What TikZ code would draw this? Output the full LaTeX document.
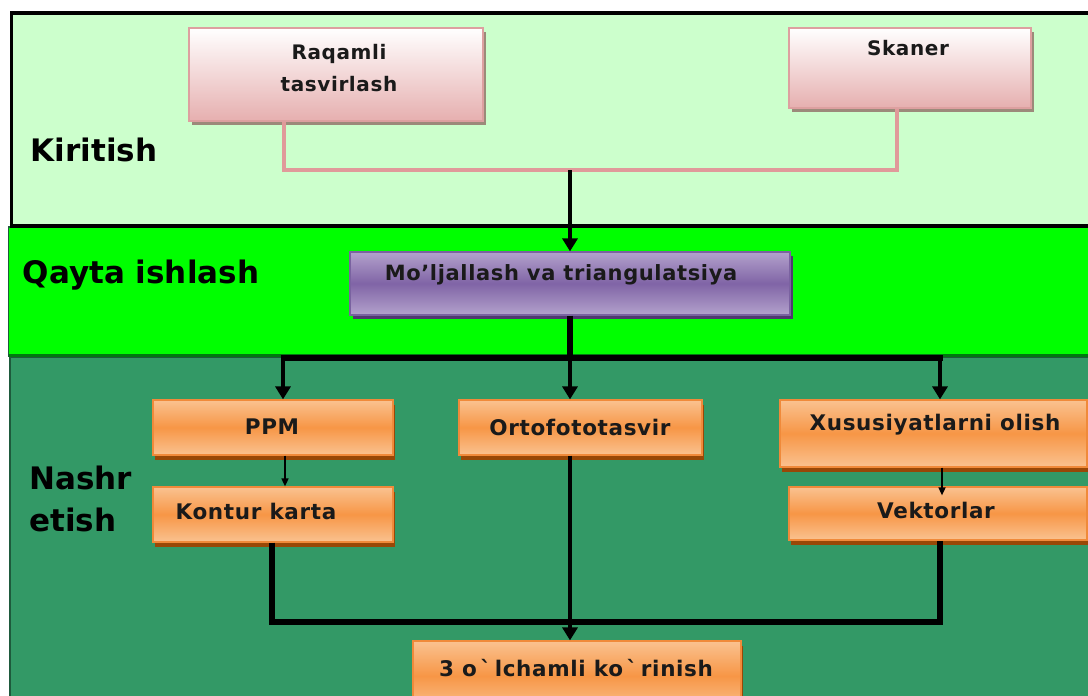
\documentclass[tikz,border=0pt]{standalone}
\usepackage{fontspec}
\setmainfont{DejaVu Sans}
\newfontfamily\boxfont{DejaVu Sans}[LetterSpace=3,Ligatures=NoCommon]
\usetikzlibrary{arrows.meta}
\definecolor{kirbg}{HTML}{CCFFCC}
\definecolor{qaytabg}{HTML}{00FF00}
\definecolor{qaytaedge}{HTML}{007A10}
\definecolor{nashrbg}{HTML}{339966}
\definecolor{nashredge}{HTML}{1E5A3C}
\definecolor{pinkbot}{HTML}{E6AFAF}
\definecolor{pinkedge}{HTML}{DDA0A0}
\definecolor{pinkshadow}{HTML}{9C8A7A}
\definecolor{pinkline}{HTML}{E09A9A}
\definecolor{purlight}{HTML}{B3A2CC}
\definecolor{purdark}{HTML}{8064A6}
\definecolor{puredge}{HTML}{7A62A0}
\definecolor{purshadow}{HTML}{4E3A6E}
\definecolor{orlight}{HTML}{FAC290}
\definecolor{ordark}{HTML}{F79646}
\definecolor{oredge}{HTML}{F08A3A}
\definecolor{orshadow}{HTML}{984807}
\definecolor{txt}{HTML}{1A1A1A}
\begin{document}
\begin{tikzpicture}[x=1pt,y=-1pt,
  bandlbl/.style={font=\fontsize{31}{42}\selectfont\bfseries, align=left, inner sep=0, text=black},
  boxtxt/.style={font=\boxfont\fontsize{21.5}{32}\selectfont\bfseries, inner sep=0, align=center, text=txt},
  basebox/.style={inner sep=0, line width=1.2pt},
  pinkbox/.style={basebox, draw=pinkedge, top color=white, bottom color=pinkbot,
    preaction={fill=pinkshadow, transform canvas={shift={(3,4)}}}},
  purbox/.style={basebox, draw=puredge, top color=purlight, bottom color=purlight, middle color=purdark,
    preaction={fill=purshadow, transform canvas={shift={(3,4)}}}},
  orbox/.style={basebox, draw=oredge, top color=orlight, bottom color=orlight, middle color=ordark,
    preaction={fill=orshadow, transform canvas={shift={(2,5)}}}},
  pinkconn/.style={draw=pinkline, line width=3.6pt},
  thickconn/.style={draw=black, line width=5.5pt},
  bigarrow/.style={draw=black, line width=4.5pt, -{Triangle[width=15pt,length=13pt]}},
  smallarrow/.style={draw=black, line width=1.6pt, -{Triangle[width=7pt,length=8pt]}}
]
\useasboundingbox (0,0) rectangle (1088,696);
\clip (0,0) rectangle (1088,696);
\fill[white] (0,0) rectangle (1088,696);

% bands
\draw[fill=nashrbg, draw=nashredge, line width=1.5pt] (10,357) rectangle (1110,720);
\draw[fill=qaytabg, draw=nashredge, line width=1.2pt] (8.5,227) rectangle (1110,356);
\draw[qaytaedge, line width=3pt] (8.5,355) -- (1110,355);
\draw[fill=kirbg, draw=black, line width=3.5pt] (11.5,13) rectangle (1110,226);
\draw[black, line width=4.5pt] (9.5,226) -- (1110,226);

% band labels
\node[bandlbl] (lkir) at (94,150) {Kiritish};
\node[bandlbl] (lqay) at (141,275) {Qayta ishlash};
\node[bandlbl, anchor=west] (lnas) at (29,499) {Nashr\\etish};

% boxes
\node[pinkbox, minimum width=294, minimum height=93] (raq) at (336,74.5) {};
\node[pinkbox, minimum width=242, minimum height=80] (skan) at (910,68) {};
\node[purbox, minimum width=440, minimum height=63] (mol) at (570,283.5) {};
\node[orbox, minimum width=240, minimum height=55] (ppm) at (273,427.5) {};
\node[orbox, minimum width=240, minimum height=55] (kon) at (273,514.5) {};
\node[orbox, minimum width=243, minimum height=55] (orto) at (580.5,427.5) {};
\node[orbox, minimum width=307, minimum height=67] (xus) at (933.5,433.5) {};
\node[orbox, minimum width=298, minimum height=53] (vek) at (938,513.5) {};
\node[orbox, minimum width=328, minimum height=70] (tri) at (577,676) {};

% box texts
\node[boxtxt, font=\boxfont\fontsize{20}{32}\selectfont\bfseries] (traq) at (339,68) {Raqamli\\tasvirlash};
\node[boxtxt, font=\boxfont\fontsize{20}{32}\selectfont\bfseries] (tskan) at (908,48) {Skaner};
\node[boxtxt, font=\boxfont\fontsize{21}{32}\selectfont\bfseries] (tmol) at (561,275) {Mo’ljallash va triangulatsiya};
\node[boxtxt] (tppm) at (272,427) {PPM};
\node[boxtxt] (tkon) at (256,511) {Kontur karta};
\node[boxtxt] (torto) at (580,427) {Ortofototasvir};
\node[boxtxt] (txus) at (935,425) {Xususiyatlarni olish};
\node[boxtxt] (tvek) at (936,510) {Vektorlar};
\node[boxtxt] (ttri) at (576,668) {3 o\,\char"60\,lchamli ko\,\char"60\,rinish};

% junction coordinates
\coordinate (pj1) at (284,170);
\coordinate (pj2) at (897,170);
\coordinate (mj) at (570,170);
\coordinate (hb) at (570,358);
\coordinate (hl) at (283,358);
\coordinate (hr) at (940,358);
\coordinate (bl) at (272,622);
\coordinate (bm) at (570,622);
\coordinate (br) at (940,622);
\coordinate (tl) at (285,0);
\coordinate (tr) at (942,0);

% input connectors
\draw[pinkconn] (raq.south -| pj1) -- (pj1) -- (pj2) -- (skan.south -| pj2);
\draw[bigarrow] (mj) -- (mol.north -| mj);

% processing to publishing
\draw[thickconn] (mol.south -| hb) -- (hb);
\draw[thickconn] ([xshift=-2.5pt]hl) -- ([xshift=2.5pt]hr);
\draw[bigarrow] ([yshift=-2pt]hl) -- (ppm.north -| hl);
\draw[bigarrow] ([yshift=-2pt]hb) -- (orto.north -| hb);
\draw[bigarrow] ([yshift=-2pt]hr) -- (xus.north -| hr);

% inner arrows
\draw[smallarrow] (ppm.south -| tl) -- (kon.north -| tl);
\draw[smallarrow, shorten >=-9pt] (xus.south -| tr) -- (vek.north -| tr);

% to 3D view
\draw[thickconn] (kon.south -| bl) -- (bl) -- (br) -- (vek.south -| br);
\draw[bigarrow] (orto.south -| bm) -- (tri.north -| bm);
\end{tikzpicture}
\end{document}
